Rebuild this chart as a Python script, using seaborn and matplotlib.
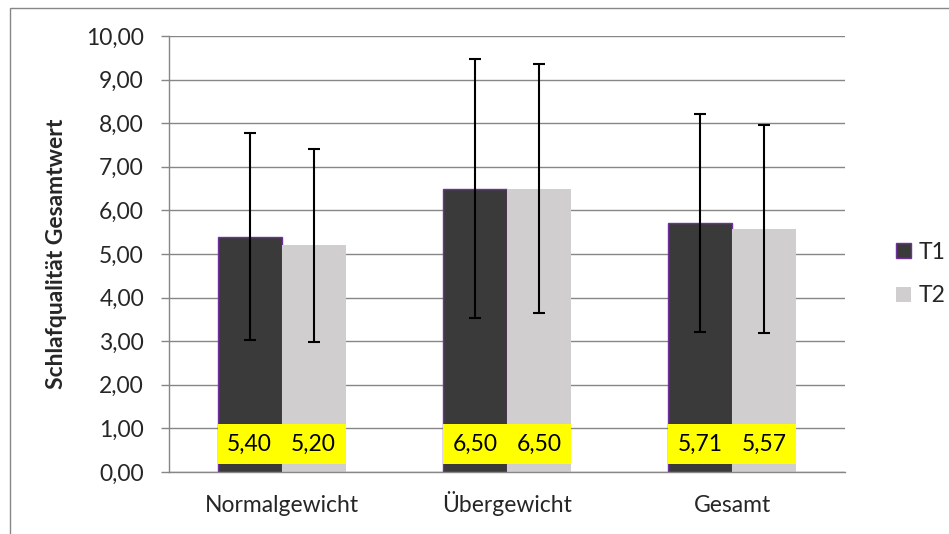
import pandas as pd
import matplotlib.pyplot as plt
import seaborn as sns
from matplotlib.patches import Patch, Rectangle
from matplotlib.ticker import FuncFormatter, FixedLocator

# Values
gruppen = ['Normalgewicht', 'Übergewicht', 'Gesamt']
zeitpunkte = ['T1', 'T2']
mittel_t1 = [5.40, 6.50, 5.71]
mittel_t2 = [5.20, 6.50, 5.57]
sd_t1 = [2.37, 2.97, 2.50]
sd_t2 = [2.21, 2.86, 2.38]

df = pd.DataFrame({
    'Gruppe': gruppen * 2,
    'Zeitpunkt': ['T1'] * 3 + ['T2'] * 3,
    'Wert': mittel_t1 + mittel_t2,
    'SD': sd_t1 + sd_t2,
})

farben = {'T1': '#3b3a3a', 'T2': '#d0cecf'}
lila = '#7030a0'
grau = '#868686'
fs = 16.5

sns.set_style('white')
plt.rcParams['font.family'] = ['Lato', 'DejaVu Sans']

fig = plt.figure(figsize=(9.49, 5.34), dpi=100)
ax = fig.add_axes([169 / 949, 1 - 472 / 534, 676 / 949, 436 / 534])

sns.barplot(data=df, x='Gruppe', y='Wert', hue='Zeitpunkt', palette=farben,
            order=gruppen, hue_order=zeitpunkte, errorbar=None,
            width=0.568, gap=0, saturation=1, linewidth=0, ax=ax, legend=False)

# purple outline on T1 bars
for bar in ax.containers[0]:
    bar.set_edgecolor(lila)
    bar.set_linewidth(1.0)

# error bars and yellow data labels
for cont, sds in zip(ax.containers, [sd_t1, sd_t2]):
    xs = [b.get_x() + b.get_width() / 2 for b in cont]
    ys = [b.get_height() for b in cont]
    ax.errorbar(xs, ys, yerr=sds, fmt='none', ecolor='black',
                elinewidth=1.5, capsize=4.5, capthick=1.5, zorder=4)
    for b, v in zip(cont, ys):
        ax.add_patch(Rectangle((b.get_x(), 0.18), b.get_width(), 0.93,
                               facecolor='#ffff00', edgecolor='none', zorder=5))
        ax.text(b.get_x() + b.get_width() / 2, 0.645, f'{v:.2f}'.replace('.', ','),
                ha='center', va='center', fontsize=fs, color='black', zorder=6)

ax.set_ylim(0, 10)
ax.set_xlim(-0.5, 2.5)
ax.set_yticks(range(0, 11))
ax.yaxis.set_major_formatter(FuncFormatter(lambda v, p: f'{v:.2f}'.replace('.', ',')))
ax.yaxis.grid(True, color=grau, linewidth=1.0)
ax.set_axisbelow(True)

ax.xaxis.set_minor_locator(FixedLocator([-0.5, 0.5, 1.5, 2.5]))
ax.tick_params(axis='x', which='major', length=0, pad=29, labelsize=fs)
ax.tick_params(axis='x', which='minor', length=6, width=1, color=grau, direction='out')
ax.tick_params(axis='y', which='major', length=6, width=1, color=grau,
               direction='out', pad=12, labelsize=fs, left=True)
for lab in ax.get_xticklabels():
    lab.set_verticalalignment('baseline')

for s in ['top', 'right']:
    ax.spines[s].set_visible(False)
for s in ['left', 'bottom']:
    ax.spines[s].set_color(grau)
    ax.spines[s].set_linewidth(1.0)

ax.set_xlabel('')
ax.set_ylabel('Schlafqualität Gesamtwert', fontsize=fs, fontweight='bold')
ax.yaxis.set_label_coords(-0.151, 0.5)

handles = [Patch(facecolor=farben['T1'], edgecolor=lila, linewidth=1.0, label='T1'),
           Patch(facecolor=farben['T2'], edgecolor='none', label='T2')]
fig.legend(handles=handles, loc='center left', bbox_to_anchor=(885 / 949, 1 - 274 / 534),
           frameon=False, fontsize=fs, handlelength=0.65, handleheight=0.65,
           handletextpad=0.3, labelspacing=1.0, borderpad=0)

# outer chart frame
fig.patches.append(Rectangle((10 / 949, -0.1), 1.2, 1.1 - 8 / 534, transform=fig.transFigure,
                             fill=False, edgecolor=grau, linewidth=1.0))

plt.savefig('out.png', dpi=100)
